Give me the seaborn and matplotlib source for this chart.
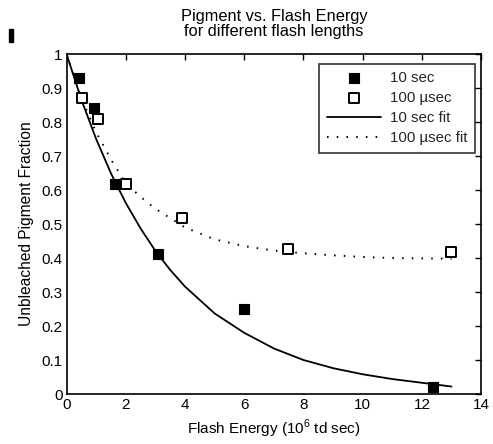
import matplotlib
matplotlib.use("Agg")
import matplotlib.pyplot as plt
import seaborn as sns
import pandas as pd
from matplotlib.patches import Rectangle

# Data
x_10s = [0.43, 0.92, 1.62, 3.09, 5.99, 12.37]
y_10s = [0.929, 0.840, 0.618, 0.412, 0.249, 0.021]
x_100us = [0.52, 1.05, 2.01, 3.90, 7.47, 12.98]
y_100us = [0.870, 0.810, 0.618, 0.519, 0.426, 0.417]

fit10_x = [0, 0.5, 1, 1.5, 2, 2.5, 3, 3.5, 4, 5, 6, 7, 8, 9, 10, 11, 12, 13]
fit10_y = [1.0, 0.866, 0.750, 0.649, 0.562, 0.487, 0.421, 0.365, 0.316, 0.237,
           0.180, 0.134, 0.100, 0.076, 0.058, 0.044, 0.033, 0.022]
fit100_x = [0, 0.5, 1, 1.5, 2, 2.5, 3, 4, 5, 6, 7, 8, 9, 10, 11, 12, 13]
fit100_y = [1.0, 0.87, 0.77, 0.69, 0.62, 0.58, 0.545, 0.49, 0.455, 0.435, 0.422,
            0.414, 0.408, 0.403, 0.400, 0.399, 0.398]

title = "Pigment vs. Flash Energy\nfor different flash lengths"
xlabel = r"Flash Energy (10$^{6}$ td sec)"
ylabel = "Unbleached Pigment Fraction"

sns.set_theme(style="white")
plt.rcParams["font.family"] = ["Liberation Sans", "DejaVu Sans"]
plt.rcParams["mathtext.fontset"] = "custom"
plt.rcParams["mathtext.rm"] = "Liberation Sans"

fig = plt.figure(figsize=(4.93, 4.44), dpi=100)
ax = fig.add_axes([0.135, 0.1126, 0.841, 0.7656])

d10 = pd.DataFrame({"x": x_10s, "y": y_10s})
d100 = pd.DataFrame({"x": x_100us, "y": y_100us})
f10 = pd.DataFrame({"x": fit10_x, "y": fit10_y})
f100 = pd.DataFrame({"x": fit100_x, "y": fit100_y})

sns.lineplot(data=f10, x="x", y="y", ax=ax, color="black", lw=1.3,
             estimator=None, sort=True, label="10 sec fit")
sns.lineplot(data=f100, x="x", y="y", ax=ax, color="black", lw=1.4,
             estimator=None, sort=True, label="100 \u00b5sec fit",
             linestyle=(0, (0.8, 4.2)))
sns.scatterplot(data=d10, x="x", y="y", ax=ax, marker="s", s=42,
                color="black", edgecolor="black", linewidth=0.8,
                label="10 sec", zorder=3)
sns.scatterplot(data=d100, x="x", y="y", ax=ax, marker="s", s=42,
                facecolor="white", edgecolor="black", linewidth=1.4,
                label="100 \u00b5sec", zorder=3)

ax.set_xlim(0, 14)
ax.set_ylim(0, 1)
ax.set_xticks(range(0, 15, 2))
ax.set_yticks([i / 10 for i in range(11)])
ax.set_yticklabels(["0", "0.1", "0.2", "0.3", "0.4", "0.5", "0.6", "0.7",
                    "0.8", "0.9", "1"])
ax.tick_params(direction="in", top=True, right=True, length=4, width=1,
               labelsize=11, color="black", labelcolor="black", pad=3)
for sp in ax.spines.values():
    sp.set_color("black")
    sp.set_linewidth(1.2)

ax.set_xlabel(xlabel, fontsize=11, color="black", labelpad=4)
ax.set_ylabel(ylabel, fontsize=11.2, color="black", labelpad=5)
ax.set_title(title, fontsize=11.8, color="black", pad=13, linespacing=1.0)

h, l = ax.get_legend_handles_labels()
order = [l.index("10 sec"), l.index("100 \u00b5sec"), l.index("10 sec fit"),
         l.index("100 \u00b5sec fit")]
leg = ax.legend([h[i] for i in order], [l[i] for i in order],
                loc="upper right", bbox_to_anchor=(0.986, 0.971),
                borderaxespad=0.0,
                fontsize=10.8, frameon=True, fancybox=False, edgecolor="black",
                handlelength=3.6, handletextpad=0.65, borderpad=0.5,
                labelspacing=0.4)
leg.get_frame().set_linewidth(1.2)

fig.patches.append(Rectangle((0.018, 0.905), 0.009, 0.03, transform=fig.transFigure,
                             color="black"))

fig.savefig("out.png", dpi=100)
